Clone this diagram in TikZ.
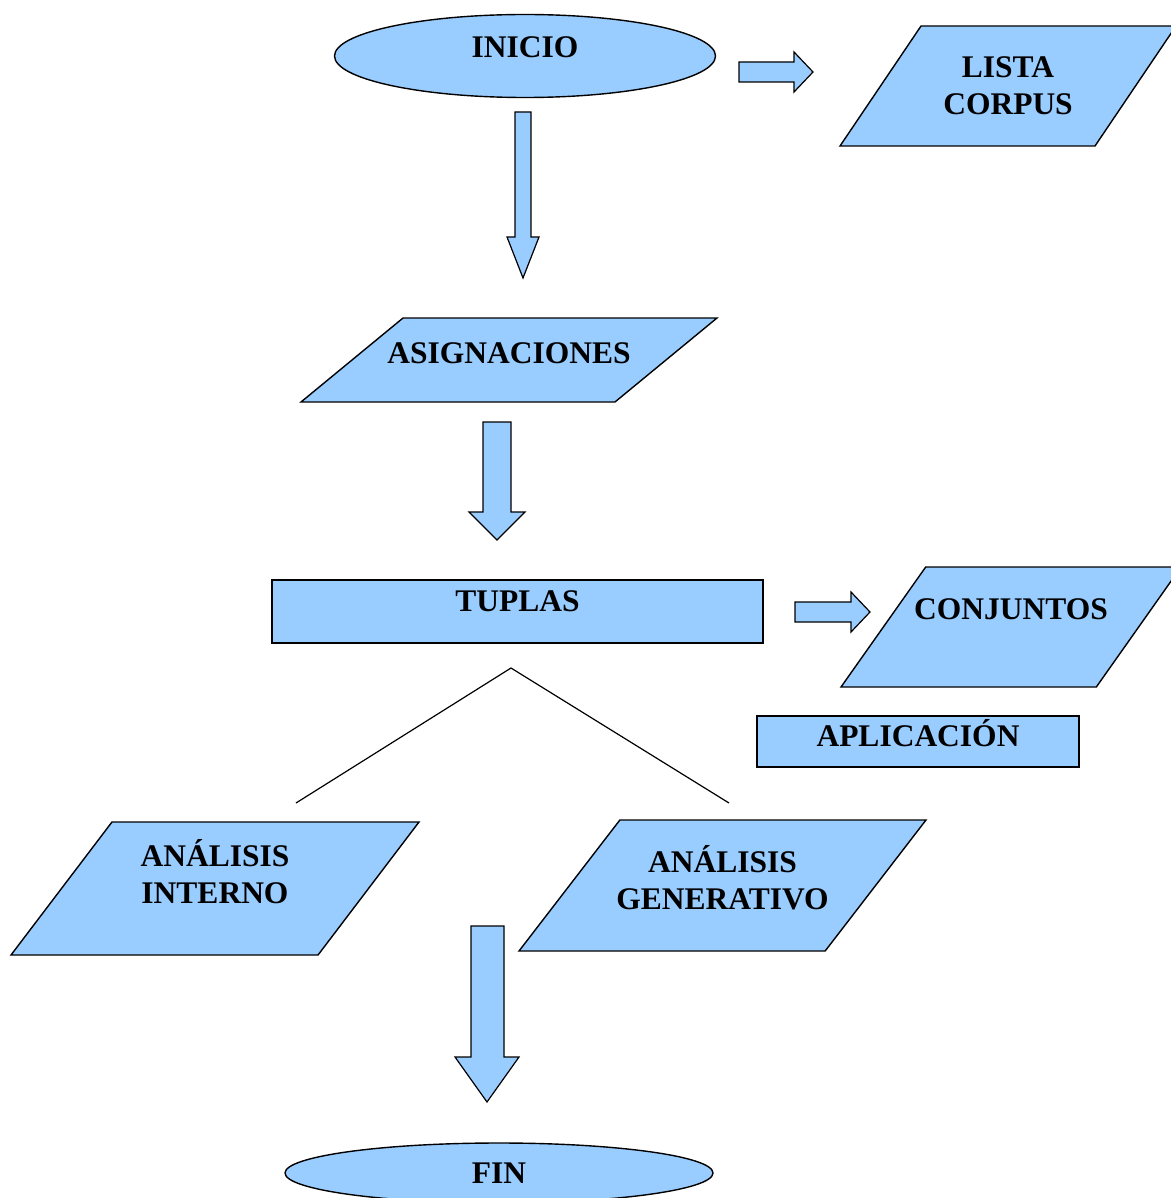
\documentclass[tikz,border=0pt]{standalone}
\usepackage{fontspec}
\setmainfont{Liberation Serif}
\usetikzlibrary{shapes.geometric}
\definecolor{azul}{HTML}{99CCFF}

\begin{document}
\begin{tikzpicture}[x=1pt, y=-1pt,
    caja/.style={draw, fill=azul, line width=1.4pt, align=center, inner sep=2pt,
        font=\fontsize{31.5}{37}\selectfont\bfseries},
    elipse/.style={caja, ellipse},
    datos/.style={caja, trapezium, trapezium stretches body},
    flecha/.style={draw, fill=azul, line width=1.2pt, line join=miter}
]
\useasboundingbox (0,0) rectangle (1170,1198);

\node[elipse, minimum width=381pt, minimum height=83pt, text depth=18pt] (ini) at (525,56) {INICIO};
\node[datos, trapezium left angle=37.5, trapezium right angle=142.5,
    minimum width=336pt, minimum height=120pt] (lista) at (1008,86) {LISTA\\CORPUS};
\node[datos, trapezium left angle=20.85, trapezium right angle=159.15, inner xsep=-17.6pt,
    minimum width=416pt, minimum height=84pt, text depth=14pt] (asig) at (509,360) {ASIGNACIONES};
\node[caja, minimum width=491pt, minimum height=63pt, text depth=21pt] (tup) at (517.5,611.5) {TUPLAS};
\node[datos, trapezium left angle=35.7, trapezium right angle=144.3, inner xsep=-11.7pt,
    minimum width=340pt, minimum height=120pt, text depth=36pt] (conj) at (1011,627) {CONJUNTOS};
\node[caja, minimum width=322pt, minimum height=51pt, text depth=18pt] (apl) at (918,741.5) {APLICACIÓN};
\node[datos, trapezium left angle=45.3, trapezium right angle=134.7,
    minimum width=408pt, minimum height=133pt, text depth=34pt] (aint) at (215,888.5) {ANÁLISIS\\INTERNO};
\node[datos, trapezium left angle=39.8, trapezium right angle=140.2, inner xsep=-4.7pt,
    minimum width=407pt, minimum height=131pt, text depth=16pt] (agen) at (722.5,885.5) {ANÁLISIS\\GENERATIVO};
\node[elipse, minimum width=428pt, minimum height=60pt] (fin) at (499,1173) {FIN};

% flechas de bloque
\draw[flecha] (739,62) -- (794,62) -- (794,52) -- (813,72) -- (794,92) -- (794,82) -- (739,82) -- cycle;
\draw[flecha] (795,602) -- (851,602) -- (851,592) -- (870,612) -- (851,632) -- (851,622) -- (795,622) -- cycle;
\draw[flecha] (515,112) -- (531,112) -- (531,237) -- (539,237) -- (523,278) -- (507,237) -- (515,237) -- cycle;
\draw[flecha] (483,422) -- (511,422) -- (511,512) -- (525,512) -- (497,540) -- (469,512) -- (483,512) -- cycle;
\draw[flecha] (471,926) -- (504,926) -- (504,1057) -- (519,1057) -- (487,1102) -- (455,1057) -- (471,1057) -- cycle;

% ramas
\coordinate (vert) at (511,668);
\draw[line width=1.2pt] (296,803) -- (vert) -- (729,803);
\end{tikzpicture}
\end{document}
